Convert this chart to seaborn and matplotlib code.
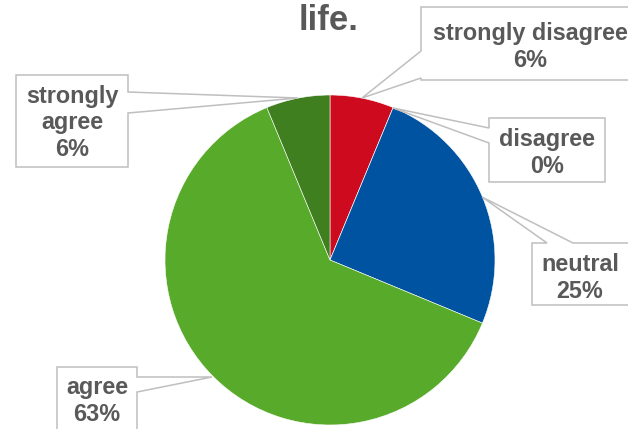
import matplotlib
matplotlib.use("Agg")
import matplotlib.pyplot as plt
from matplotlib.patches import Polygon
import seaborn as sns

# Survey responses (counts) and their display order around the pie
categories = ["strongly disagree", "disagree", "neutral", "agree", "strongly agree"]
counts = [1, 0, 4, 10, 1]
slice_colors = ["#CE0A1F", "#0053A0", "#0053A0", "#58AA2A", "#3F7F1F"]
label_lines = ["strongly disagree", "disagree", "neutral", "agree", "strongly\nagree"]
title_text = "life."

sns.set_theme(style="white")
plt.rcParams["font.family"] = ["Liberation Sans", "DejaVu Sans"]

W, H = 628, 429
fig = plt.figure(figsize=(W / 100, H / 100), dpi=100)
ax = fig.add_axes([0, 0, 1, 1])

total = sum(counts)
pcts = [int(100 * c / total + 0.5) for c in counts]

cx, cy, r = 330, 260, 165
ax.pie(counts, colors=slice_colors, startangle=90, counterclock=False,
       center=(cx, H - cy), radius=r, normalize=True,
       wedgeprops=dict(edgecolor="white", linewidth=0.4))

ax.set_xlim(0, W)
ax.set_ylim(0, H)
ax.set_aspect("equal")
ax.axis("off")

TXT = "#595959"
EDGE = "#BFBFBF"


def P(x, y):
    return (x, H - y)


def callout(verts):
    ax.add_patch(Polygon([P(x, y) for x, y in verts], closed=True,
                         facecolor="white", edgecolor=EDGE, linewidth=1.1,
                         zorder=3, clip_on=False))


def label(x, y, text):
    ax.text(x, H - y, text, ha="center", va="center", fontsize=16.8,
            fontweight="bold", color=TXT, linespacing=1.2, zorder=4)


# strongly disagree: box to the upper right, tail on its left edge
callout([(421, 7), (670, 7), (670, 80), (421, 80), (421, 78), (362, 98), (421, 51)])
label(530, 47, f"{label_lines[0]}\n{pcts[0]}%")

# disagree
callout([(489, 118), (605, 118), (605, 182), (489, 182), (489, 143), (393, 108), (489, 128)])
label(547, 153, f"{label_lines[1]}\n{pcts[1]}%")

# neutral: tail on the top edge
callout([(532, 243), (547, 243), (482, 197), (573, 243), (645, 243), (645, 305), (532, 305)])
label(580, 278, f"{label_lines[2]}\n{pcts[2]}%")

# agree: tail on the right edge
callout([(57, 367), (137, 367), (137, 377), (212, 377), (137, 392), (137, 445), (57, 445)])
label(97, 401, f"{label_lines[3]}\n{pcts[3]}%")

# strongly agree
callout([(16, 75), (128, 75), (128, 92), (298, 98), (128, 113), (128, 167), (16, 167)])
label(72, 123, f"{label_lines[4]}\n{pcts[4]}%")

ax.text(329, H - 30, title_text, ha="center", va="baseline", fontsize=25,
        fontweight="bold", color=TXT)

fig.savefig("out.png", dpi=100)
